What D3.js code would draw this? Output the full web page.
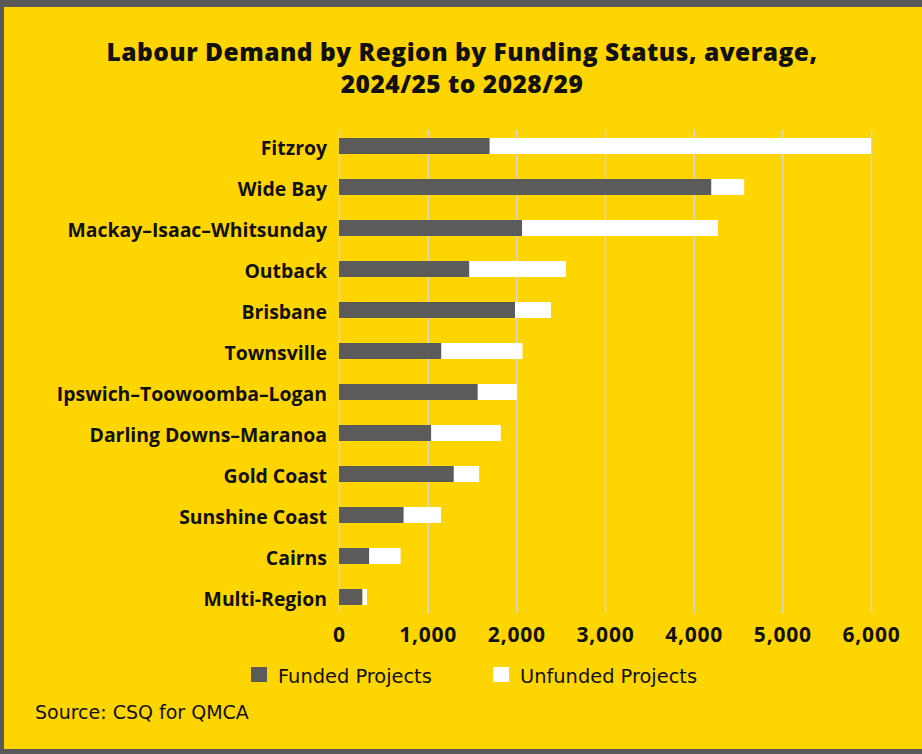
<!DOCTYPE html>
<html>
<head>
<meta charset="utf-8">
<script src="https://cdn.jsdelivr.net/npm/d3@7"></script>
<style>
  html, body { margin: 0; padding: 0; background: #595959; }
  svg { display: block; }
  text { font-family: "Open Sans", "Lato", sans-serif; fill: #111; }
</style>
</head>
<body>
<div class="chart"></div>
<script>
// values
const regions = ["Fitzroy", "Wide Bay", "Mackay\u2013Isaac\u2013Whitsunday", "Outback", "Brisbane",
  "Townsville", "Ipswich\u2013Toowoomba\u2013Logan", "Darling Downs\u2013Maranoa", "Gold Coast",
  "Sunshine Coast", "Cairns", "Multi-Region"];
const funded   = [1700, 4200, 2065, 1470, 1985, 1155, 1565, 1040, 1295, 730, 340, 265];
const unfunded = [4300, 370, 2210, 1090, 405, 915, 440, 785, 285, 420, 355, 50];
const xTicks = [0, 1000, 2000, 3000, 4000, 5000, 6000];
const seriesNames = ["Funded Projects", "Unfunded Projects"];
const seriesColors = ["#5b5b5b", "#ffffff"];

const W = 922, H = 754;
const svg = d3.select(".chart")
  .append("svg")
  .attr("width", W)
  .attr("height", H);

// yellow card on the grey frame
svg.append("rect")
  .attr("x", 4).attr("y", 7)
  .attr("width", W - 4).attr("height", 742)
  .attr("fill", "#ffd500");

// title
const title = svg.append("text")
  .attr("text-anchor", "middle")
  .attr("font-size", "24.5px")
  .attr("font-weight", 800)
  .attr("letter-spacing", "0.5px");
title.append("tspan").attr("x", 462).attr("y", 61)
  .text("Labour Demand by Region by Funding Status, average,");
title.append("tspan").attr("x", 462).attr("y", 93)
  .text("2024/25 to 2028/29");

const rows = regions.map((r, i) => ({region: r, funded: funded[i], unfunded: unfunded[i]}));

const x = d3.scaleLinear()
  .domain([0, 6000])
  .range([339, 871]);

const y = d3.scaleBand()
  .domain(regions)
  .range([125.5, 617.5])
  .paddingInner(0.61)
  .paddingOuter(0.305);

const gridTop = 130, gridBottom = 613;

// x axis with grid lines
const xAxis = d3.axisBottom(x)
  .tickValues(xTicks)
  .tickFormat(d3.format(","))
  .tickSizeInner(-(gridBottom - gridTop))
  .tickSizeOuter(0)
  .tickPadding(14);

const gx = svg.append("g")
  .attr("transform", "translate(0," + gridBottom + ")")
  .call(xAxis);
gx.select(".domain").remove();
gx.selectAll(".tick line")
  .attr("stroke", "#d6d6d6")
  .attr("stroke-width", 1.5);
gx.selectAll(".tick text")
  .attr("font-size", "21px")
  .attr("font-weight", 700)
  .attr("letter-spacing", "0.8px")
  .attr("fill", "#111")
  .style("font-family", "'Open Sans', sans-serif");

// stacked bars
const stack = d3.stack().keys(["funded", "unfunded"]);
const layers = stack(rows);

svg.selectAll("g.layer")
  .data(layers)
  .enter()
  .append("g")
  .attr("class", "layer")
  .attr("fill", (d, i) => seriesColors[i])
  .selectAll("rect")
  .data(d => d)
  .enter()
  .append("rect")
  .attr("x", d => x(d[0]))
  .attr("y", d => y(d.data.region))
  .attr("width", d => x(d[1]) - x(d[0]))
  .attr("height", y.bandwidth());

// region labels
svg.selectAll("text.region")
  .data(regions)
  .enter()
  .append("text")
  .attr("class", "region")
  .attr("x", 327)
  .attr("y", d => y(d) + y.bandwidth() / 2 + 9)
  .attr("text-anchor", "end")
  .attr("font-size", "19.4px")
  .attr("font-weight", 700)
  .text(d => d);

// legend
const legendX = [251, 493];
const legend = svg.selectAll("g.legend")
  .data(seriesNames)
  .enter()
  .append("g")
  .attr("class", "legend")
  .attr("transform", (d, i) => "translate(" + legendX[i] + ",667)");
legend.append("rect")
  .attr("width", 16).attr("height", 15)
  .attr("fill", (d, i) => seriesColors[i]);
legend.append("text")
  .attr("x", 27).attr("y", 16)
  .attr("font-size", "19.4px")
  .attr("fill", "#222")
  .style("font-family", "'DejaVu Sans', sans-serif")
  .text(d => d);

// source
svg.append("text")
  .attr("x", 35).attr("y", 719)
  .attr("font-size", "19px")
  .attr("fill", "#222")
  .style("font-family", "'DejaVu Sans', sans-serif")
  .text("Source: CSQ for QMCA");
</script>
</body>
</html>
